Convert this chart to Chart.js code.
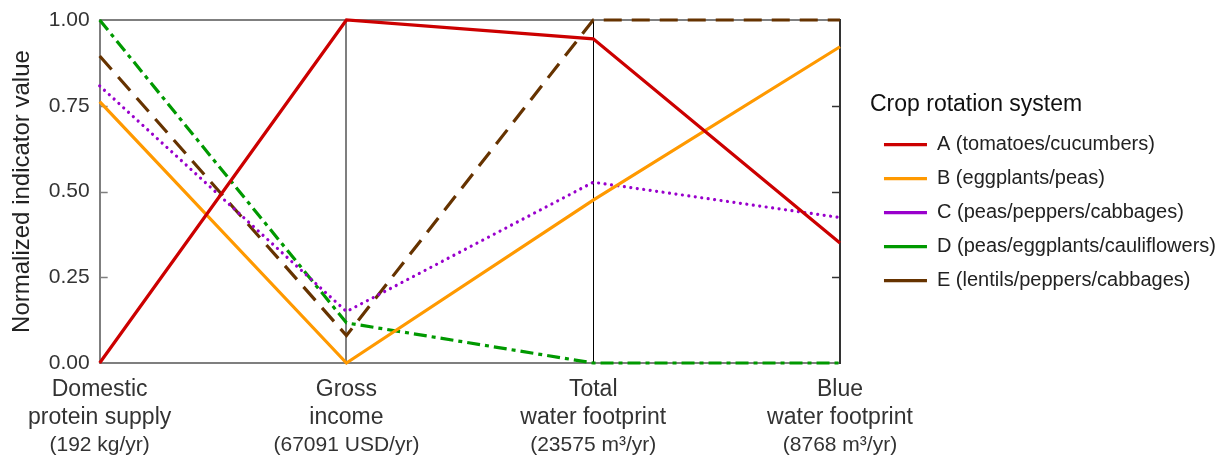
<!DOCTYPE html>
<html>
<head>
<meta charset="utf-8">
<script src="https://cdn.jsdelivr.net/npm/chart.js@4.4.1/dist/chart.umd.min.js"></script>
<style>
  html, body { margin: 0; padding: 0; background: #fff; }
  #wrap { width: 1231px; height: 457px; }
</style>
</head>
<body>
<div id="wrap"><canvas id="cropChart"></canvas></div>
<script>
// Axis names and units (units line is smaller, so it goes on a second axis)
const indicators = [
  ["Domestic", "protein supply"],
  ["Gross", "income"],
  ["Total", "water footprint"],
  ["Blue", "water footprint"]
];
const units = ["(192 kg/yr)", "(67091 USD/yr)", "(23575 m³/yr)", "(8768 m³/yr)"];

const systemNames = [
  "A (tomatoes/cucumbers)",
  "B (eggplants/peas)",
  "C (peas/peppers/cabbages)",
  "D (peas/eggplants/cauliflowers)",
  "E (lentils/peppers/cabbages)"
];

// Normalized values per system
const valuesA = [0.00, 1.00, 0.945, 0.35];
const valuesB = [0.762, 0.00, 0.475, 0.922];
const valuesC = [0.808, 0.15, 0.527, 0.424];
const valuesD = [1.00, 0.117, 0.00, 0.00];
const valuesE = [0.895, 0.08, 1.00, 1.00];

const yTicks = [0, 0.25, 0.5, 0.75, 1];

const textColor = "#333";
const frameColor = "#7f7f7f";
const fontFamily = "Liberation Sans, Arial, sans-serif";

// small tick marks pointing inside the plot on both vertical borders
const innerTicks = {
  id: "innerTicks",
  beforeDatasetsDraw(chart) {
    const ctx = chart.ctx;
    const area = chart.chartArea;
    const y = chart.scales.y;
    ctx.save();
    ctx.lineWidth = 1.5;
    yTicks.slice(1, -1).forEach(v => {
      const py = Math.round(y.getPixelForValue(v)) + 0.5;
      ctx.strokeStyle = frameColor;
      ctx.beginPath();
      ctx.moveTo(area.left, py);
      ctx.lineTo(area.left + 8, py);
      ctx.stroke();
      ctx.strokeStyle = "#333";
      ctx.beginPath();
      ctx.moveTo(area.right - 8, py);
      ctx.lineTo(area.right, py);
      ctx.stroke();
    });
    ctx.restore();
  }
};

function serie(label, data, color, dash, cap) {
  return {
    label: label,
    data: data,
    borderColor: color,
    backgroundColor: color,
    borderWidth: 3.2,
    borderDash: dash,
    borderCapStyle: cap,
    pointRadius: 0,
    pointHoverRadius: 0,
    tension: 0,
    fill: false,
    clip: 6
  };
}

const ctx = document.getElementById("cropChart").getContext("2d");
new Chart(ctx, {
  type: "line",
  data: {
    labels: indicators,
    datasets: [
      serie(systemNames[0], valuesA, "#CC0000", [], "butt"),
      serie(systemNames[1], valuesB, "#FF9900", [], "butt"),
      serie(systemNames[2], valuesC, "#9900CC", [0.01, 6.5], "round"),
      serie(systemNames[3], valuesD, "#009900", [13, 5, 4, 5], "butt"),
      serie(systemNames[4], valuesE, "#663300", [18, 10], "butt")
    ]
  },
  options: {
    responsive: true,
    maintainAspectRatio: false,
    animation: false,
    events: [],
    layout: {
      padding: { top: 20, left: 8, right: 5, bottom: 0 }
    },
    plugins: {
      tooltip: { enabled: false },
      legend: {
        position: "right",
        align: "start",
        maxWidth: 420,
        title: {
          display: true,
          text: "Crop rotation system",
          position: "start",
          color: "#111",
          font: { family: fontFamily, size: 23 },
          padding: { top: 73, bottom: 0 }
        },
        labels: {
          usePointStyle: true,
          pointStyle: "line",
          pointStyleWidth: 43,
          padding: 14,
          color: "#222",
          font: { family: fontFamily, size: 20 }
        }
      }
    },
    scales: {
      x: {
        type: "category",
        offset: false,
        grid: {
          display: true,
          drawTicks: false,
          lineWidth: ctx => (ctx.index === 2 ? 1 : 2),
          color: ctx => (ctx.index === 2 ? "#000" : (ctx.index === 3 ? "#333" : frameColor))
        },
        border: { display: true, color: frameColor, width: 2 },
        ticks: {
          autoSkip: false,
          maxRotation: 0,
          padding: 12.5,
          color: textColor,
          font: { family: fontFamily, size: 23, lineHeight: 1.22 }
        },
        afterFit: scale => { scale.height = 69; }
      },
      x2: {
        type: "category",
        position: "bottom",
        labels: units,
        offset: false,
        grid: { display: false, drawTicks: false },
        border: { display: false },
        ticks: {
          autoSkip: false,
          maxRotation: 0,
          padding: 1,
          color: textColor,
          font: { family: fontFamily, size: 21, lineHeight: 1.15 }
        },
        afterFit: scale => { scale.height = 25; }
      },
      y: {
        min: 0,
        max: 1,
        afterBuildTicks: scale => {
          scale.ticks = yTicks.map(v => ({ value: v }));
        },
        afterFit: scale => {
          scale.paddingTop = 0;
          scale.paddingBottom = 0;
        },
        grid: {
          drawTicks: false,
          lineWidth: 2,
          color: ctx => (ctx.tick && (ctx.tick.value === 1 || ctx.tick.value === 0) ? frameColor : "rgba(0,0,0,0)")
        },
        border: { display: true, color: frameColor, width: 2 },
        ticks: {
          padding: 10,
          color: textColor,
          font: { family: fontFamily, size: 21 },
          callback: v => Number(v).toFixed(2)
        },
        title: {
          display: true,
          text: "Normalized indicator value",
          color: "#222",
          padding: { top: 0, bottom: 2 },
          font: { family: fontFamily, size: 24 }
        }
      },
      yR: {
        position: "right",
        min: 0,
        max: 1,
        grid: { drawOnChartArea: false, drawTicks: false },
        border: { display: true, color: "#333", width: 2 },
        ticks: { display: false },
        afterFit: scale => {
          scale.width = 30;
          scale.paddingTop = 0;
          scale.paddingBottom = 0;
        }
      }
    }
  },
  plugins: [innerTicks]
});
</script>
</body>
</html>
